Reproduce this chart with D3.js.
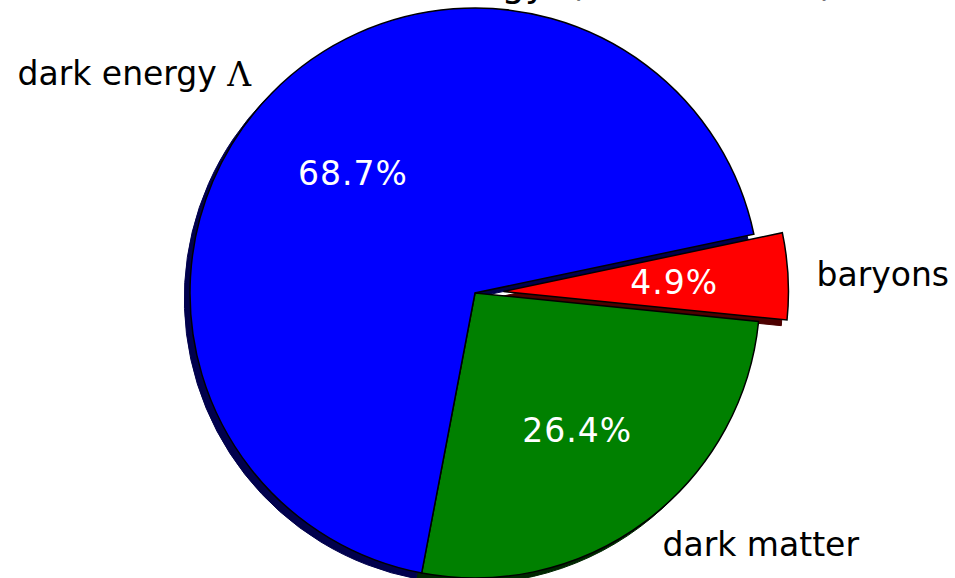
<!DOCTYPE html>
<html>
<head>
<meta charset="utf-8">
<script src="https://cdnjs.cloudflare.com/ajax/libs/d3/7.8.5/d3.min.js"></script>
<style>
  body { margin: 0; background: #fff; }
  svg { display: block; }
  text { font-family: "DejaVu Sans", Verdana, sans-serif; }
</style>
</head>
<body>
<svg width="955" height="578"></svg>
<script>
// data, in drawing order (clockwise from the baryons wedge)
var labels = ["baryons", "dark matter", "dark energy"];
var values = [4.9, 26.4, 68.7];
var colors = ["#ff0000", "#008000", "#0000ff"];
var shadowColors = ["#4d0000", "#002600", "#00004d"];
var explode = [0.1, 0, 0];
var title = "Content of the Universe: mass-energy (Planck 2015)";

var svg = d3.select("svg"),
    width = +svg.attr("width"),
    height = +svg.attr("height");

var cx = 475, cy = 293, radius = 285;

// radius scale: 1.0 = pie radius
var r = d3.scaleLinear().domain([0, 1]).range([0, radius]);

var start = 78.1 * Math.PI / 180;
var pie = d3.pie()
    .sort(null)
    .value(function(d) { return d.value; })
    .startAngle(start)
    .endAngle(start + 2 * Math.PI);

var arc = d3.arc().innerRadius(0).outerRadius(r(1));

var data = labels.map(function(l, i) {
  return {label: l, value: values[i], color: colors[i], shadow: shadowColors[i], explode: explode[i]};
});
var arcs = pie(data);

function mid(d) { return (d.startAngle + d.endAngle) / 2; }
function offset(d) {
  var m = mid(d), o = r(d.data.explode);
  return [Math.sin(m) * o, -Math.cos(m) * o];
}

var g = svg.append("g")
    .attr("transform", "translate(" + cx + "," + cy + ")");

// shadows first
g.selectAll(".shadow")
  .data(arcs)
  .enter().append("path")
  .attr("class", "shadow")
  .attr("transform", function(d) {
    var o = offset(d);
    return "translate(" + (o[0] - r(0.02)) + "," + (o[1] + r(0.02)) + ")";
  })
  .attr("d", arc)
  .attr("fill", function(d) { return d.data.shadow; })
  .attr("stroke", function(d) { return d.data.shadow; })
  .attr("stroke-width", 1);

// wedges
g.selectAll(".wedge")
  .data(arcs)
  .enter().append("path")
  .attr("class", "wedge")
  .attr("transform", function(d) {
    var o = offset(d);
    return "translate(" + o[0] + "," + o[1] + ")";
  })
  .attr("d", arc)
  .attr("fill", function(d) { return d.data.color; })
  .attr("stroke", "#000")
  .attr("stroke-width", 1.5)
  .attr("stroke-linejoin", "miter");

// outer labels
var lab = g.selectAll(".label")
  .data(arcs)
  .enter().append("text")
  .attr("class", "label")
  .attr("x", function(d) { return offset(d)[0] + Math.sin(mid(d)) * r(1.1); })
  .attr("y", function(d) { return offset(d)[1] - Math.cos(mid(d)) * r(1.1); })
  .attr("text-anchor", function(d) { return Math.sin(mid(d)) < 0 ? "end" : "start"; })
  .attr("dominant-baseline", "central")
  .style("font-size", "33px")
  .attr("fill", "#000")
  .text(function(d) { return d.data.label; });

lab.filter(function(d) { return d.data.label === "dark energy"; })
  .append("tspan")
  .style("font-family", "'DejaVu Serif', serif")
  .text(" \u039B");

// percentage labels
g.selectAll(".pct")
  .data(arcs)
  .enter().append("text")
  .attr("class", "pct")
  .attr("x", function(d) { return offset(d)[0] + Math.sin(mid(d)) * r(0.6); })
  .attr("y", function(d) { return offset(d)[1] - Math.cos(mid(d)) * r(0.6); })
  .attr("text-anchor", "middle")
  .attr("dominant-baseline", "central")
  .style("font-size", "33px")
  .style("letter-spacing", "1px")
  .attr("fill", "#fff")
  .text(function(d) { return d3.format(".1f")(d.data.value) + "%"; });

// title (only its descenders show at the top edge)
svg.append("text")
  .attr("x", 834)
  .attr("y", -4)
  .attr("text-anchor", "end")
  .style("font-size", "37px")
  .style("word-spacing", "10px")
  .attr("fill", "#000")
  .text(title);
</script>
</body>
</html>
